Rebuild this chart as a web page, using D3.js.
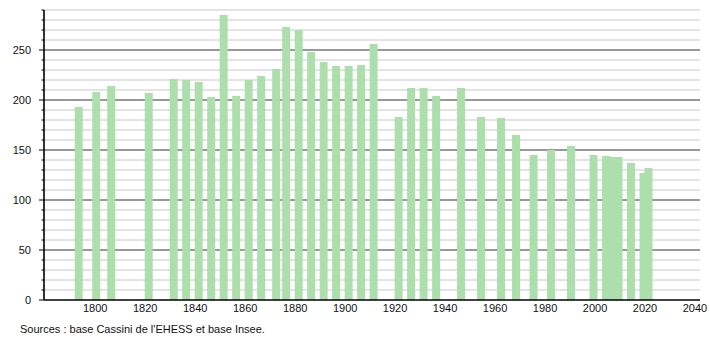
<!DOCTYPE html>
<html>
<head>
<meta charset="utf-8">
<script src="https://cdn.jsdelivr.net/npm/d3@7"></script>
<style>
  body { margin: 0; background: #fff; }
  svg { display: block; font-family: "Liberation Sans", Arial, sans-serif; }
</style>
</head>
<body>
<svg width="710" height="340"></svg>
<script>
// census years and population
var years = [1793, 1800, 1806, 1821, 1831, 1836, 1841, 1846, 1851, 1856,
  1861, 1866, 1872, 1876, 1881, 1886, 1891, 1896, 1901, 1906,
  1911, 1921, 1926, 1931, 1936, 1946, 1954, 1962, 1968, 1975,
  1982, 1990, 1999, 2004, 2007, 2009, 2014, 2019, 2021];
var population = [193, 208, 214, 207, 221, 220, 218, 203, 285, 204,
  220, 224, 231, 273, 270, 248, 238, 234, 234, 235,
  256, 183, 212, 212, 204, 212, 183, 182, 165, 145,
  150, 154, 145, 144, 143, 143, 137, 127, 132];
var xTicks = [1800, 1820, 1840, 1860, 1880, 1900, 1920, 1940, 1960, 1980, 2000, 2020, 2040];
var yTicks = [0, 50, 100, 150, 200, 250];
var source = "Sources : base Cassini de l'EHESS et base Insee.";

var svg = d3.select("svg");
var plotLeft = 44, plotRight = 700, plotTop = 10, plotBottom = 300;

var x = d3.scaleLinear().domain([1779.5, 2042]).range([plotLeft, plotRight]);
var y = d3.scaleLinear().domain([0, 290]).range([plotBottom, plotTop]);

var barW = 8;

// minor grid every 10
var minor = d3.range(10, 291, 10).filter(function(v) { return v % 50 != 0; });
svg.append("g")
  .selectAll("line")
  .data(minor)
  .enter().append("line")
  .attr("x1", plotLeft).attr("x2", plotRight)
  .attr("y1", function(d) { return y(d); })
  .attr("y2", function(d) { return y(d); })
  .attr("stroke", "#c8c8c8")
  .attr("stroke-width", 1);

// major grid every 50
svg.append("g")
  .selectAll("line")
  .data(yTicks.filter(function(d) { return d > 0; }))
  .enter().append("line")
  .attr("x1", plotLeft).attr("x2", plotRight)
  .attr("y1", function(d) { return y(d); })
  .attr("y2", function(d) { return y(d); })
  .attr("stroke", "#333")
  .attr("stroke-width", 1);

// bars
svg.append("g")
  .selectAll("rect")
  .data(years)
  .enter().append("rect")
  .attr("x", function(d) { return x(d) + 1 - barW / 2; })
  .attr("width", barW)
  .attr("y", function(d, i) { return y(population[i]); })
  .attr("height", function(d, i) { return y(0) - y(population[i]); })
  .attr("fill", "#addfad");

// y axis
var yAxis = svg.append("g")
  .attr("transform", "translate(" + plotLeft + ",0)");
yAxis.append("line")
  .attr("y1", y(290)).attr("y2", y(0))
  .attr("stroke", "#000").attr("stroke-width", 1.6);
yAxis.selectAll(".minor")
  .data(d3.range(0, 291, 10))
  .enter().append("line")
  .attr("x1", function(d) { return d % 50 == 0 ? -5 : -2.5; })
  .attr("x2", 0)
  .attr("y1", function(d) { return y(d); })
  .attr("y2", function(d) { return y(d); })
  .attr("stroke", "#000").attr("stroke-width", 1);
yAxis.selectAll("text")
  .data(yTicks)
  .enter().append("text")
  .attr("x", -13)
  .attr("y", function(d) { return y(d); })
  .attr("dy", "0.35em")
  .attr("text-anchor", "end")
  .attr("font-size", 11)
  .attr("fill", "#111")
  .text(function(d) { return d; });

// x axis
svg.append("line")
  .attr("x1", plotLeft).attr("x2", plotRight)
  .attr("y1", plotBottom).attr("y2", plotBottom)
  .attr("stroke", "#000").attr("stroke-width", 1.3);
svg.append("g")
  .selectAll("text")
  .data(xTicks)
  .enter().append("text")
  .attr("x", function(d) { return x(d); })
  .attr("y", plotBottom + 8)
  .attr("dy", "0.35em")
  .attr("text-anchor", "middle")
  .attr("font-size", 11)
  .attr("fill", "#111")
  .text(function(d) { return d; });

svg.append("text")
  .attr("x", 20)
  .attr("y", 329)
  .attr("dy", "0.35em")
  .attr("font-size", 11)
  .attr("fill", "#111")
  .text(source);
</script>
</body>
</html>
